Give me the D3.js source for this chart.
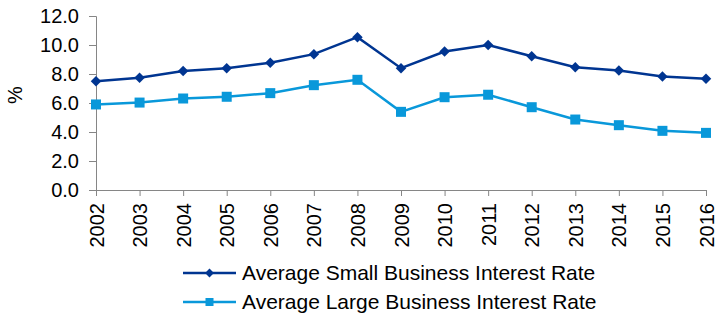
<!DOCTYPE html>
<html lang="en">
<head>
  <meta charset="UTF-8">
  <title>Small vs Large Business Interest Rates</title>
  <script src="https://d3js.org/d3.v7.min.js"></script>
  <style>
    body { margin: 0; background: #fff; }
    svg { display: block; font-family: "Liberation Sans", Arial, sans-serif; }
  </style>
</head>
<body>
  <svg width="717" height="315"></svg>
  <script>
    // Data
    const years = ["2002","2003","2004","2005","2006","2007","2008","2009","2010","2011","2012","2013","2014","2015","2016"];
    const smallRates = [7.5, 7.74, 8.2, 8.4, 8.77, 9.37, 10.54, 8.4, 9.55, 10.0, 9.23, 8.47, 8.24, 7.83, 7.67];
    const largeRates = [5.9, 6.03, 6.31, 6.43, 6.68, 7.23, 7.6, 5.39, 6.4, 6.57, 5.71, 4.86, 4.47, 4.08, 3.94];
    const yTicks = [0, 2, 4, 6, 8, 10, 12];
    const seriesNames = ["Average Small Business Interest Rate", "Average Large Business Interest Rate"];

    const svg = d3.select("svg"),
          margin = { top: 16, right: 11, bottom: 125, left: 96 },
          width = 717, height = 315;

    const x = d3.scalePoint()
      .domain(years)
      .range([margin.left, width - margin.right]);

    const y = d3.scaleLinear()
      .domain([0, 12])
      .range([height - margin.bottom, margin.top]);

    const axisColor = "#868686";

    // y axis
    const yAxis = svg.append("g")
      .attr("transform", `translate(${margin.left},0)`)
      .call(d3.axisLeft(y).tickValues(yTicks).tickFormat(d3.format(".1f")).tickSize(7).tickPadding(10));
    yAxis.select(".domain").attr("stroke", axisColor);
    yAxis.selectAll(".tick line").attr("stroke", axisColor);
    yAxis.selectAll("text").attr("font-size", 20).attr("fill", "#000").attr("font-family", "inherit");

    // x axis
    const xAxis = svg.append("g")
      .attr("transform", `translate(0,${y(0)})`)
      .call(d3.axisBottom(x).tickSize(6).tickSizeOuter(0));
    xAxis.select(".domain").attr("stroke", axisColor);
    xAxis.selectAll(".tick line").attr("stroke", axisColor);
    xAxis.selectAll("text")
      .attr("font-size", 20)
      .attr("fill", "#000")
      .attr("font-family", "inherit")
      .attr("transform", "rotate(-90)")
      .attr("text-anchor", "end")
      .attr("x", -13)
      .attr("y", 0)
      .attr("dy", "0.35em");

    // y axis title
    svg.append("text")
      .attr("transform", "rotate(-90)")
      .attr("x", -95)
      .attr("y", 22)
      .attr("text-anchor", "middle")
      .attr("font-size", 20)
      .text("%");

    const line = d3.line()
      .x((d, i) => x(years[i]))
      .y(d => y(d));

    const colors = ["#003591", "#0998DA"];

    // Small business line with diamonds
    svg.append("path")
      .datum(smallRates)
      .attr("fill", "none")
      .attr("stroke", colors[0])
      .attr("stroke-width", 2.5)
      .attr("d", line);

    const diamond = d3.symbol().type(d3.symbolDiamond2).size(70);
    svg.append("g").selectAll("path")
      .data(smallRates)
      .join("path")
      .attr("transform", (d, i) => `translate(${x(years[i])},${y(d)})`)
      .attr("d", diamond)
      .attr("fill", colors[0]);

    // Large business line with squares
    svg.append("path")
      .datum(largeRates)
      .attr("fill", "none")
      .attr("stroke", colors[1])
      .attr("stroke-width", 2.5)
      .attr("d", line);

    svg.append("g").selectAll("rect")
      .data(largeRates)
      .join("rect")
      .attr("x", (d, i) => x(years[i]) - 5)
      .attr("y", d => y(d) - 5)
      .attr("width", 10)
      .attr("height", 10)
      .attr("fill", colors[1]);

    // Legend
    const legend = svg.append("g");
    seriesNames.forEach((name, i) => {
      const ly = 273 + i * 29;
      const g = legend.append("g").attr("transform", `translate(183,${ly})`);
      g.append("line")
        .attr("x1", 0).attr("x2", 53)
        .attr("stroke", colors[i]).attr("stroke-width", 2.5);
      if (i === 0) {
        g.append("path")
          .attr("transform", "translate(26.5,0)")
          .attr("d", d3.symbol().type(d3.symbolDiamond2).size(50))
          .attr("fill", colors[i]);
      } else {
        g.append("rect")
          .attr("x", 22.5).attr("y", -4).attr("width", 8).attr("height", 8)
          .attr("fill", colors[i]);
      }
      g.append("text")
        .attr("x", 59)
        .attr("dy", "0.35em")
        .attr("font-size", 21)
        .text(name);
    });
  </script>
</body>
</html>
